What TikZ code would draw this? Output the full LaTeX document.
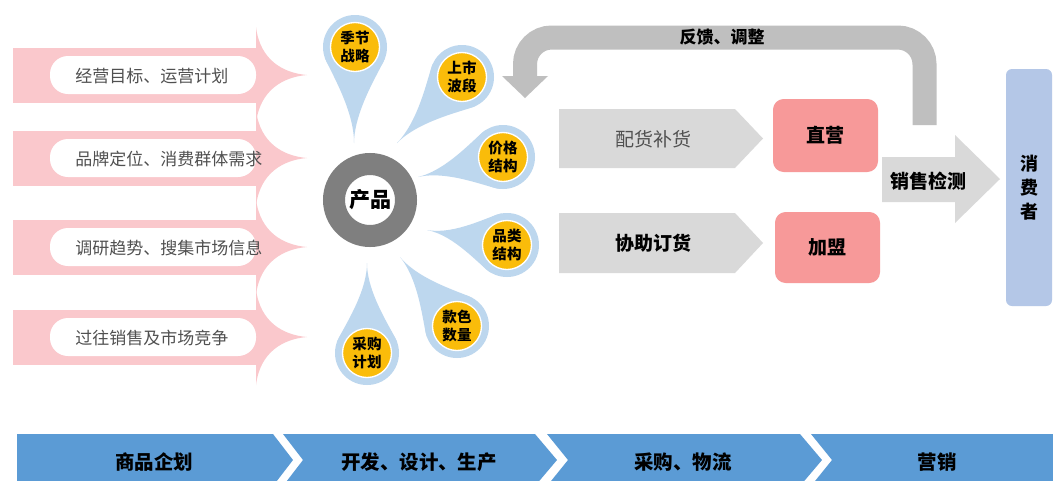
\documentclass[tikz,border=0pt]{standalone}
\usepackage{fontspec}
\setmainfont{Noto Sans CJK SC}
\usetikzlibrary{calc}
\definecolor{arrowpink}{RGB}{250,200,204}
\definecolor{petalblue}{RGB}{189,215,238}
\definecolor{dotyellow}{RGB}{250,188,10}
\definecolor{ringgray}{RGB}{127,127,127}
\definecolor{fbgray}{RGB}{191,191,191}
\definecolor{chevgray}{RGB}{217,217,217}
\definecolor{boxpink}{RGB}{247,153,153}
\definecolor{consblue}{RGB}{180,199,231}
\definecolor{barblue}{RGB}{91,155,213}
\definecolor{txtgray}{RGB}{80,80,80}
\newcommand\myfs[2]{\fontsize{#1}{#2}\selectfont}
\newcommand\petal[5]{%
  \coordinate (#1c) at (#2);
  \coordinate (#1t) at (#3);
  \fill[petalblue] (#1t) .. controls ($(#1t)!0.35!(#1c)$) and ($(#1c)!25.5pt!50:(#1t)$) .. ($(#1c)!24pt!70:(#1t)$)
     -- ($(#1c)!24pt!-70:(#1t)$) .. controls ($(#1c)!25.5pt!-50:(#1t)$) and ($(#1t)!0.35!(#1c)$) .. cycle;
  \fill[petalblue] (#1c) circle[radius=32];
  \node[dot] (#1) at (#1c) {#4\\#5};
}
\tikzset{
  lefttxt/.style={anchor=west, text=txtgray, font=\myfs{12.75}{15}, inner sep=0},
  dot/.style={circle, fill=dotyellow, draw=white, line width=1pt, minimum size=36.75pt,
    inner sep=0, align=center, font=\bfseries\myfs{10.9}{13.5}},
  ring/.style={circle, draw=ringgray, line width=16.5pt, minimum size=54pt, inner sep=0,
    font=\bfseries\myfs{15.75}{18}},
  pinkbox/.style={fill=boxpink, rounded corners=8pt, minimum width=78.75pt, inner sep=0,
    font=\bfseries\myfs{14.25}{16}},
  chevtxt/.style={inner sep=0, font=\myfs{14.25}{16}},
  bartxt/.style={inner sep=0, font=\bfseries\myfs{14.6}{16}},
  feedback/.style={fbgray, line width=18pt, rounded corners=20pt},
}
\begin{document}
\begin{tikzpicture}[x=0.75pt,y=-0.75pt]
\clip (0,0) rectangle (1053,480);
\fill[white] (0,0) rectangle (1053,480);

% left input arrows
\foreach \t in {75,158,247,337}{
  \fill[arrowpink] (13,\t-27.5) rectangle (258,\t+27.5);
  \fill[arrowpink] (256,\t-48) .. controls (260,\t-15) and (283,\t-2) .. (307,\t)
     .. controls (283,\t+2) and (260,\t+15) .. (256,\t+48) -- cycle;
  \fill[white, rounded corners=13.5pt] (50,\t-19) rectangle (256,\t+19);
}
\node[lefttxt] (in1) at (75,76) {经营目标、运营计划};
\node[lefttxt] (in2) at (75,159) {品牌定位、消费群体需求};
\node[lefttxt] (in3) at (75,248) {调研趋势、搜集市场信息};
\node[lefttxt] (in4) at (75,338) {过往销售及市场竞争};

% petals
\petal{pa}{355,47}{354,143}{季节}{战略}
\petal{pb}{462,77}{397,143}{上市}{波段}
\petal{pc}{503,157}{418,177}{价格}{结构}
\petal{pd}{507,245}{427,230}{品类}{结构}
\petal{pe}{457,326}{400,257}{款色}{数量}
\petal{pf}{367,353}{367,263}{采购}{计划}

% product ring
\node[ring] (prod) at (370,200) {产品};

% chevrons
\fill[chevgray] (559,109) -- (735,109) -- (763,138.5) -- (735,168) -- (559,168) -- cycle;
\node[chevtxt, text=txtgray] (ph) at (653,139) {配货补货};
\fill[chevgray] (559,213) -- (735,213) -- (763,243) -- (735,273) -- (559,273) -- cycle;
\node[chevtxt, font=\bfseries\myfs{14.25}{16}] (xz) at (653,243) {协助订货};

% pink boxes
\node[pinkbox, minimum height=54.75pt] (zy) at (825.5,135.5) {直营};
\node[pinkbox, minimum height=53.25pt] (jm) at (827.5,247.5) {加盟};

% sales arrow
\fill[chevgray] (882,157) -- (955,157) -- (955,135) -- (1000,179) -- (955,223) -- (955,202) -- (882,202) -- cycle;
\node[inner sep=0, font=\bfseries\myfs{14.25}{16}] (xs) at (928,181) {销售检测};

% feedback arrow
\coordinate (fbs) at (924.5,125);
\coordinate (fbe) at (525,78);
\draw[feedback] (fbs) |- (525,37.5) -- (fbe);
\fill[fbgray] (502,76) -- (548,76) -- (525,98) -- cycle;
\node[inner sep=0, font=\bfseries\myfs{12.75}{15}] (fbt) at (722,37.5) {反馈、调整};

% consumer
\node[fill=consblue, rounded corners=4.5pt, minimum width=34.5pt, minimum height=177.75pt,
  inner sep=0, align=center, font=\bfseries\myfs{13.5}{18}] (cons) at (1029,187.5) {消\\费\\者};

% bottom process bar
\fill[barblue] (17,434) -- (273,434) -- (293,460) -- (273,486) -- (17,486) -- cycle;
\fill[barblue] (283,434) -- (535,434) -- (557,460) -- (535,486) -- (283,486) -- (303,460) -- cycle;
\fill[barblue] (547,434) -- (800,434) -- (822,460) -- (800,486) -- (547,486) -- (568,460) -- cycle;
\fill[barblue] (811,434) -- (1060,434) -- (1060,486) -- (811,486) -- (832,460) -- cycle;
\node[bartxt] (s1) at (154,462) {商品企划};
\node[bartxt] (s2) at (419,462) {开发、设计、生产};
\node[bartxt] (s3) at (683,462) {采购、物流};
\node[bartxt] (s4) at (937,462) {营销};
\end{tikzpicture}
\end{document}
